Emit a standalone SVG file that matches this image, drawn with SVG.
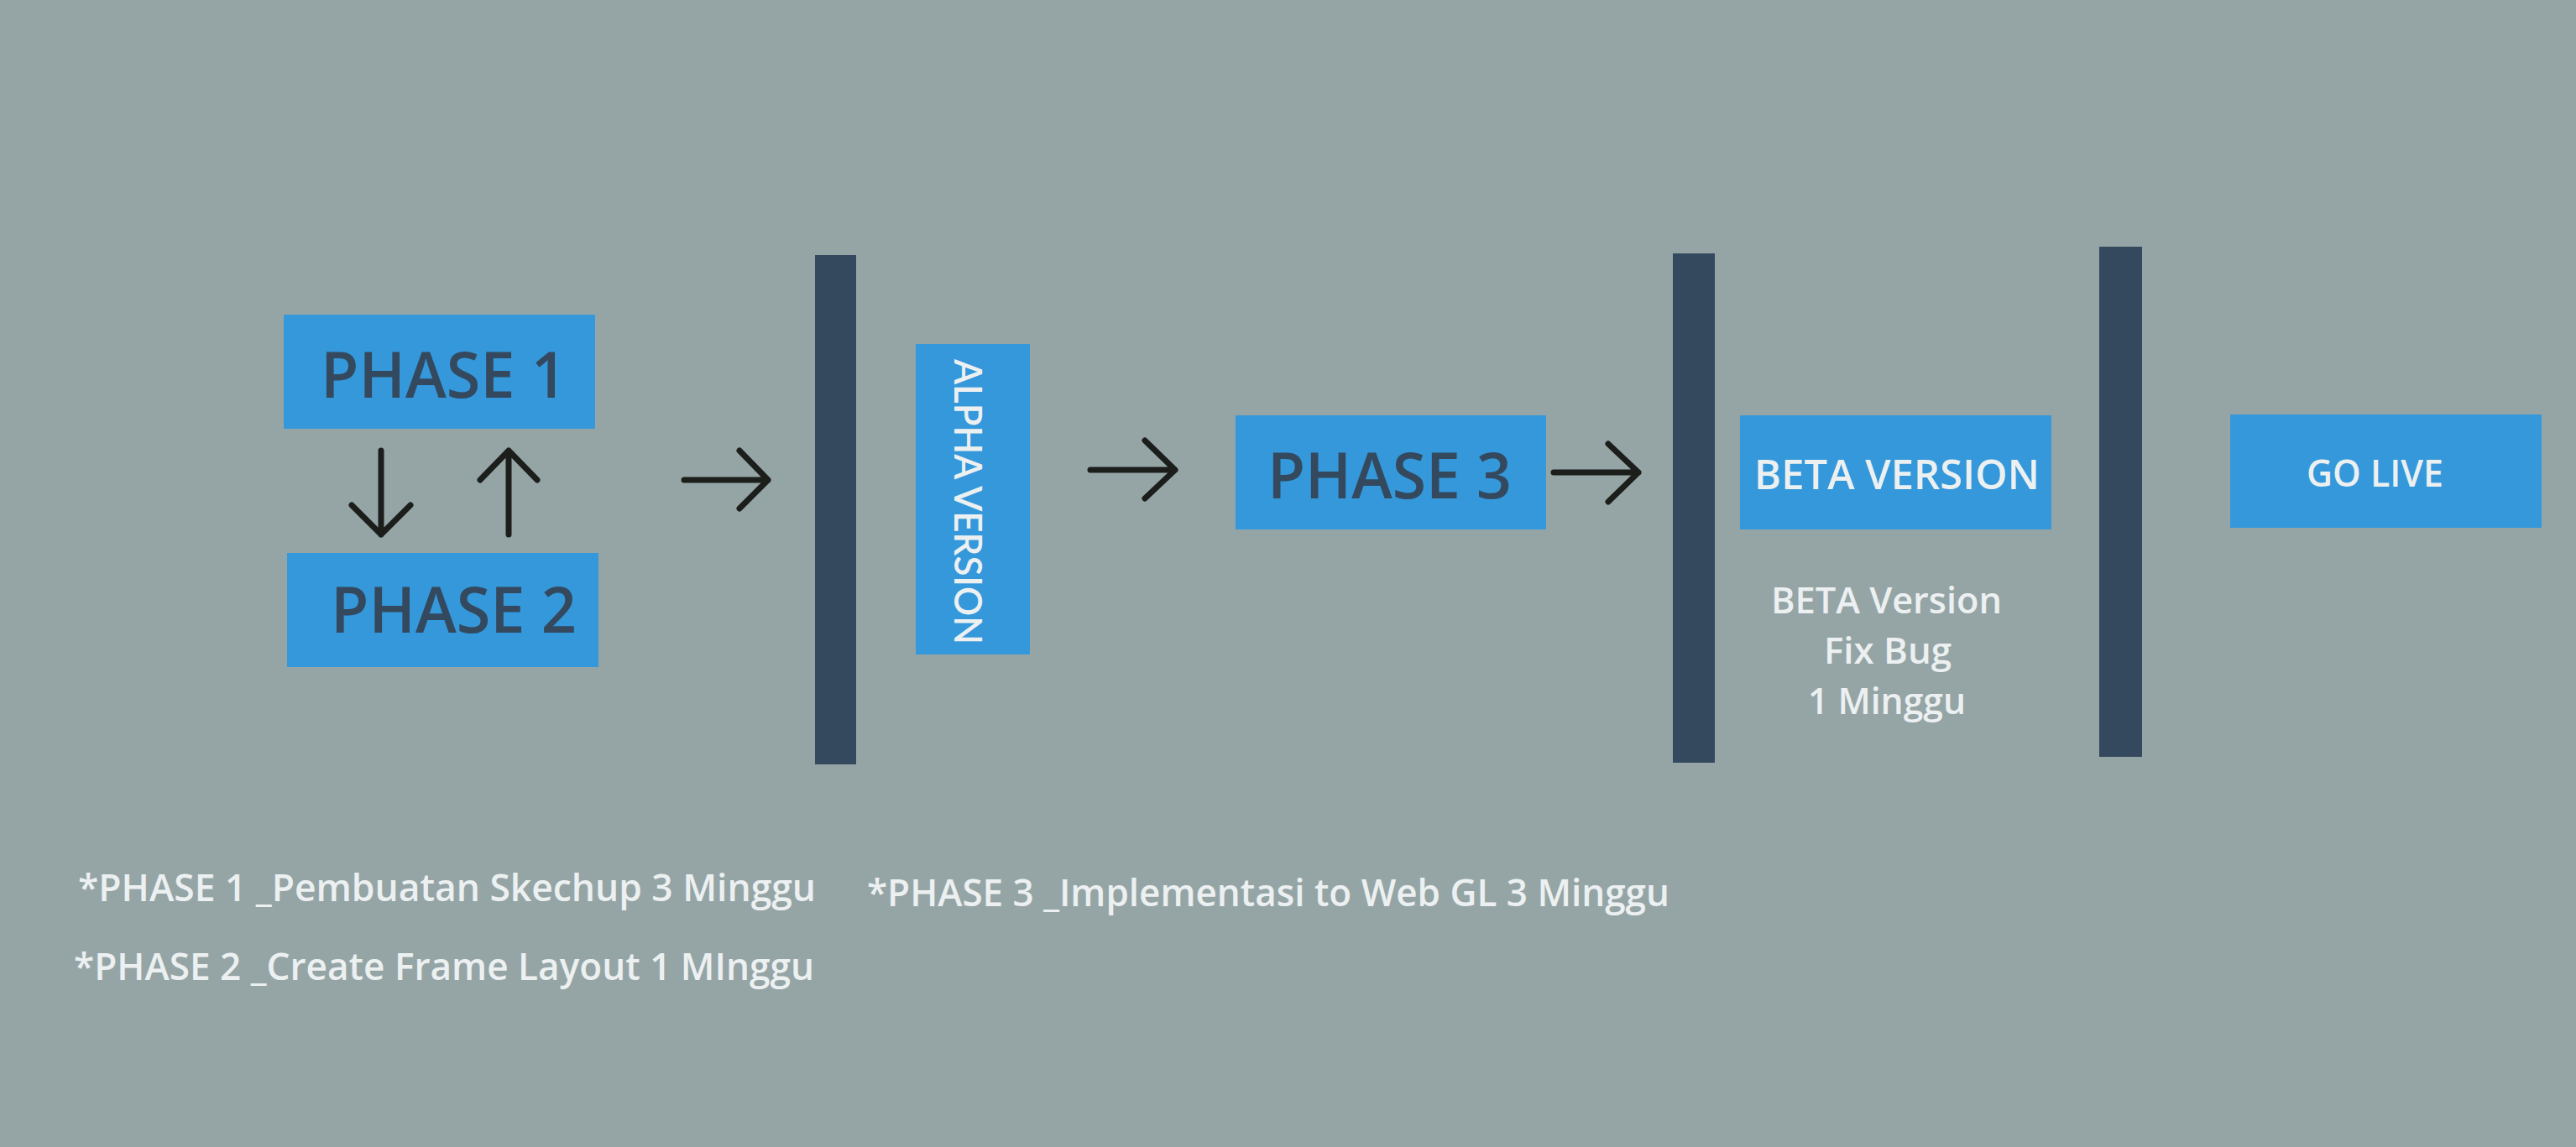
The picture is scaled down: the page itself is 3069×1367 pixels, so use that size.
<svg xmlns="http://www.w3.org/2000/svg" width="3069" height="1367" viewBox="0 0 3069 1367">
<style>
.box{fill:#3498db}
.bar{fill:#34495e}
.dark{fill:#34495e;font-family:"Open Sans","Noto Sans","Liberation Sans",sans-serif;font-weight:600;font-size:76px}
.light{fill:#ecf0f1;font-family:"Open Sans","Noto Sans","Liberation Sans",sans-serif;font-weight:600}
.alpha{fill:#ecf0f1;font-family:Lato,"Open Sans","Liberation Sans",sans-serif;font-weight:600;font-size:47px}
.arr{fill:none;stroke:#1c1e1b;stroke-width:7;stroke-linecap:round;stroke-linejoin:round}
</style>
<rect width="3069" height="1367" fill="#95a5a6"/>
<g id="phase1"><rect class="box" x="338" y="375" width="371" height="136"/><text class="dark" x="382" y="474" textLength="293" lengthAdjust="spacingAndGlyphs">PHASE 1</text></g>
<g id="phase2"><rect class="box" x="342" y="659" width="371" height="136"/><text class="dark" x="394" y="754" textLength="293" lengthAdjust="spacingAndGlyphs">PHASE 2</text></g>
<g id="bar1"><rect class="bar" x="971" y="304" width="49" height="607"/></g>
<g id="alpha"><rect class="box" x="1091" y="410" width="136" height="370"/><text class="alpha" transform="translate(1137,598) rotate(90)" text-anchor="middle" textLength="340" lengthAdjust="spacingAndGlyphs">ALPHA VERSION</text></g>
<g id="phase3"><rect class="box" x="1472" y="495" width="370" height="136"/><text class="dark" x="1510" y="594" textLength="291" lengthAdjust="spacingAndGlyphs">PHASE 3</text></g>
<g id="bar2"><rect class="bar" x="1993" y="302" width="50" height="607"/></g>
<g id="beta"><rect class="box" x="2073" y="495" width="371" height="136"/><text class="light" x="2090" y="583" font-size="49" textLength="340" lengthAdjust="spacingAndGlyphs">BETA VERSION</text></g>
<g id="beta-note">
<text class="light" x="2110" y="731" font-size="44" textLength="275" lengthAdjust="spacingAndGlyphs">BETA Version</text>
<text class="light" x="2173" y="791" font-size="44" textLength="152" lengthAdjust="spacingAndGlyphs">Fix Bug</text>
<text class="light" x="2154" y="851" font-size="44" textLength="188" lengthAdjust="spacingAndGlyphs">1 Minggu</text>
</g>
<g id="bar3"><rect class="bar" x="2501" y="294" width="51" height="608"/></g>
<g id="golive"><rect class="box" x="2657" y="494" width="371" height="135"/><text class="light" x="2748" y="580" font-size="45" textLength="163" lengthAdjust="spacingAndGlyphs">GO LIVE</text></g>
<g id="notes">
<text class="light" x="93" y="1074" font-size="45" textLength="879" lengthAdjust="spacingAndGlyphs">*PHASE 1 _Pembuatan Skechup 3 Minggu</text>
<text class="light" x="88" y="1168" font-size="45" textLength="882" lengthAdjust="spacingAndGlyphs">*PHASE 2 _Create Frame Layout 1 MInggu</text>
<text class="light" x="1033" y="1080" font-size="45" textLength="956" lengthAdjust="spacingAndGlyphs">*PHASE 3 _Implementasi to Web GL 3 Minggu</text>
</g>
<g id="connectors">
<path class="arr" d="M454 537V637M419 602L454 637L489 602"/>
<path class="arr" d="M606 637V537M572 572L606 537L640 572"/>
<path class="arr" d="M815 572H915M881 537L915 572L881 606"/>
<path class="arr" d="M1299 560H1400M1364 525L1400 560L1364 594"/>
<path class="arr" d="M1851 563H1952M1916 529L1952 563L1916 598"/>
</g>
</svg>
